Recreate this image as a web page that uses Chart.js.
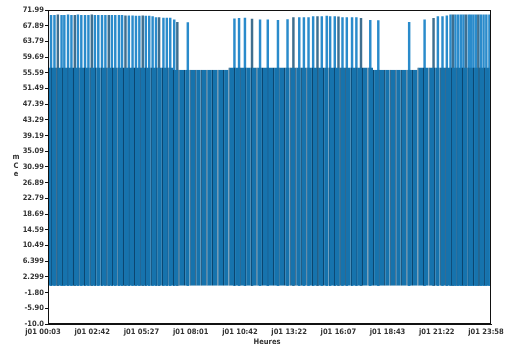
<!DOCTYPE html>
<html><head><meta charset="utf-8">
<script src="https://cdn.jsdelivr.net/npm/chart.js@4"></script>
<style>html,body{margin:0;padding:0;overflow:hidden;background:#fff}canvas{display:block}</style>
</head><body>
<canvas id="c" width="508" height="352"></canvas>
<script>
// Times are minutes since 00:00 of day j01
const baseTimes = [12,30,48,66,84,102,120,138,156,174,192,210,228,246,264,282,300,318,336,354,372,390,408,
  426,444,462,480,498,516,534,552,570,588,
  606,624,642,660,678,696,714,732,750,768,786,804,822,840,858,876,894,912,930,948,966,984,1002,1020,1038,1056,
  1074,1092,1110,1128,1146,1164,1182,1200,
  1218,1236,1254,1272,1290,1308,1326,1344,1362,1380,1398,1416,1434];
const baseValues = [57,57,57,57,57,57,57,57,57,57,57,57,57,57,57,57,57,57,57,57,57,57,57,
  56.4,56.4,56.4,56.4,56.4,56.4,56.4,56.4,56.4,56.4,
  57,57,57,57,57,57,57,57,57,57,57,57,57,57,57,57,57,57,57,57,57,57,57,57,57,57,
  56.4,56.4,56.4,56.4,56.4,56.4,56.4,56.4,
  57,57,57,57,57,57,57,57,57,57,57,57,57];
const spikeTimes = [10,21,32,44,53,65,76,87,97,108,120,131,142,152,163,175,186,197,207,218,230,240,251,262,274,285,296,
  307,317,328,339,350,360,374,385,396,409,419,453,
  604,619,638,661,687,712,745,776,795,814,829,844,859,873,887,903,914,929,941,954,968,985,999,1014,1044,1070,
  1170,1220,1249,1263,1278,1292,1304,1312,1320,1329,1338,1346,1354,1363,1370,1378,1386,1394,1402,1411,1420,1430];
const spikeValues = [70.6,70.6,70.7,70.6,70.6,70.7,70.6,70.6,70.7,70.6,70.6,70.6,70.7,70.6,70.6,70.6,70.6,70.6,70.6,70.6,70.6,70.6,70.5,70.5,70.5,70.4,70.4,
  70.5,70.4,70.4,70.3,70.0,70.0,69.9,69.9,69.9,69.4,68.8,68.7,
  69.7,69.8,69.9,69.6,69.4,69.4,69.3,69.5,70.0,70.0,70.0,70.0,70.3,70.3,70.3,70.4,70.3,70.3,70.2,70.0,70.0,70.0,70.0,69.8,69.3,69.2,
  68.8,69.4,69.8,70.3,70.3,70.5,70.7,70.7,70.7,70.7,70.7,70.7,70.7,70.7,70.7,70.7,70.7,70.7,70.7,70.7,70.7,70.7];
const xTickValues = [3,162.4,321.9,481.3,640.8,800.2,959.7,1119.1,1278.6,1438];
const xTickLabels = ['j01 00:03','j01 02:42','j01 05:27','j01 08:01','j01 10:42','j01 13:22','j01 16:07','j01 18:43','j01 21:22','j01 23:58'];
const yTickValues = [-10,-5.9005,-1.801,2.2985,6.398,10.4975,14.597,18.6965,22.796,26.8955,30.995,35.0945,39.194,43.2935,47.393,51.4925,55.592,59.6915,63.791,67.8905,71.99];
const yTickLabels = ['-10.0','-5.90','-1.80','2.299','6.399','10.49','14.59','18.69','22.79','26.89','30.99','35.09','39.19','43.29','47.39','51.49','55.59','59.69','63.79','67.89','71.99'];
const yTitle = ['m','C','e'];
const xTitle = 'Heures';

const FONT_FAMILY = "'Liberation Sans Narrow','DejaVu Sans Condensed',sans-serif";
const tickFont = {family: FONT_FAMILY, size: 7.5, weight: 'bold'};
const TEXT = '#333';

const framePlugin = {
  id: 'frame',
  afterDatasetsDraw(chart) {
    const a = chart.chartArea, c = chart.ctx;
    c.save();
    c.strokeStyle = '#111';
    c.lineWidth = 1;
    c.strokeRect(a.left + 0.5, a.top + 0.5, a.right - a.left - 1, a.bottom - a.top - 1);
    c.restore();
  }
};
const titlesPlugin = {
  id: 'titles',
  afterDraw(chart) {
    const c = chart.ctx;
    c.save();
    c.fillStyle = TEXT;
    c.font = "bold 7.5px " + FONT_FAMILY;
    c.textAlign = 'center';
    c.textBaseline = 'middle';
    const ys = [157, 166, 174];
    yTitle.forEach((t, i) => c.fillText(t, 16, ys[i]));
    c.fillText(xTitle, 267, 342);
    c.restore();
  }
};

new Chart(document.getElementById('c'), {
  type: 'bar',
  data: {
    datasets: [
      {
        label: 'base',
        data: baseTimes.map((t, i) => ({x: t, y: baseValues[i]})),
        xAxisID: 'x',
        backgroundColor: '#1673ad',
        borderColor: '#0b4670',
        borderWidth: {left: 1.2, right: 0, top: 0, bottom: 0},
        borderSkipped: false,
        barThickness: 5.7,
        inflateAmount: 0,
        order: 0
      },
      {
        label: 'spikes',
        data: spikeTimes.map((t, i) => ({x: t, y: spikeValues[i]})),
        xAxisID: 'x2',
        backgroundColor: (ctx) => (ctx.dataIndex % 5 === 2 ? '#3f6f8f' : '#2a8bcb'),
        barThickness: 1.8,
        order: 1
      }
    ]
  },
  options: {
    responsive: false,
    animation: false,
    events: [],
    plugins: {legend: {display: false}, tooltip: {enabled: false}},
    layout: {padding: {top: 10, right: 17, left: 0, bottom: 0}},
    scales: {
      x: {
        type: 'linear', min: 3, max: 1438, offset: false,
        afterBuildTicks: (s) => { s.ticks = xTickValues.map(v => ({value: v})); },
        ticks: {autoSkip: false, maxRotation: 0, minRotation: 0, font: tickFont, color: TEXT, padding: 4, labelOffset: -5,
          callback: (v, i) => xTickLabels[i]},
        grid: {display: true, drawOnChartArea: false, drawTicks: false, color: '#000', offset: false},
        border: {display: true, color: '#111', width: 1},
        afterFit: (s) => { s.height = 28; s.paddingLeft = 0; s.paddingRight = 0; }
      },
      x2: {type: 'linear', min: 3, max: 1438, display: false, offset: false, grid: {offset: false}},
      y: {
        min: -10, max: 71.99,
        afterBuildTicks: (s) => { s.ticks = yTickValues.map(v => ({value: v})); },
        ticks: {font: tickFont, color: TEXT, padding: 1, callback: (v, i) => yTickLabels[i]},
        grid: {drawOnChartArea: false, drawTicks: true, tickLength: 3, color: '#111'},
        border: {display: true, color: '#111', width: 1},
        afterFit: (s) => { s.width = 48; s.paddingTop = 0; s.paddingBottom = 0; }
      }
    }
  },
  plugins: [framePlugin, titlesPlugin]
});
</script>
</body></html>
